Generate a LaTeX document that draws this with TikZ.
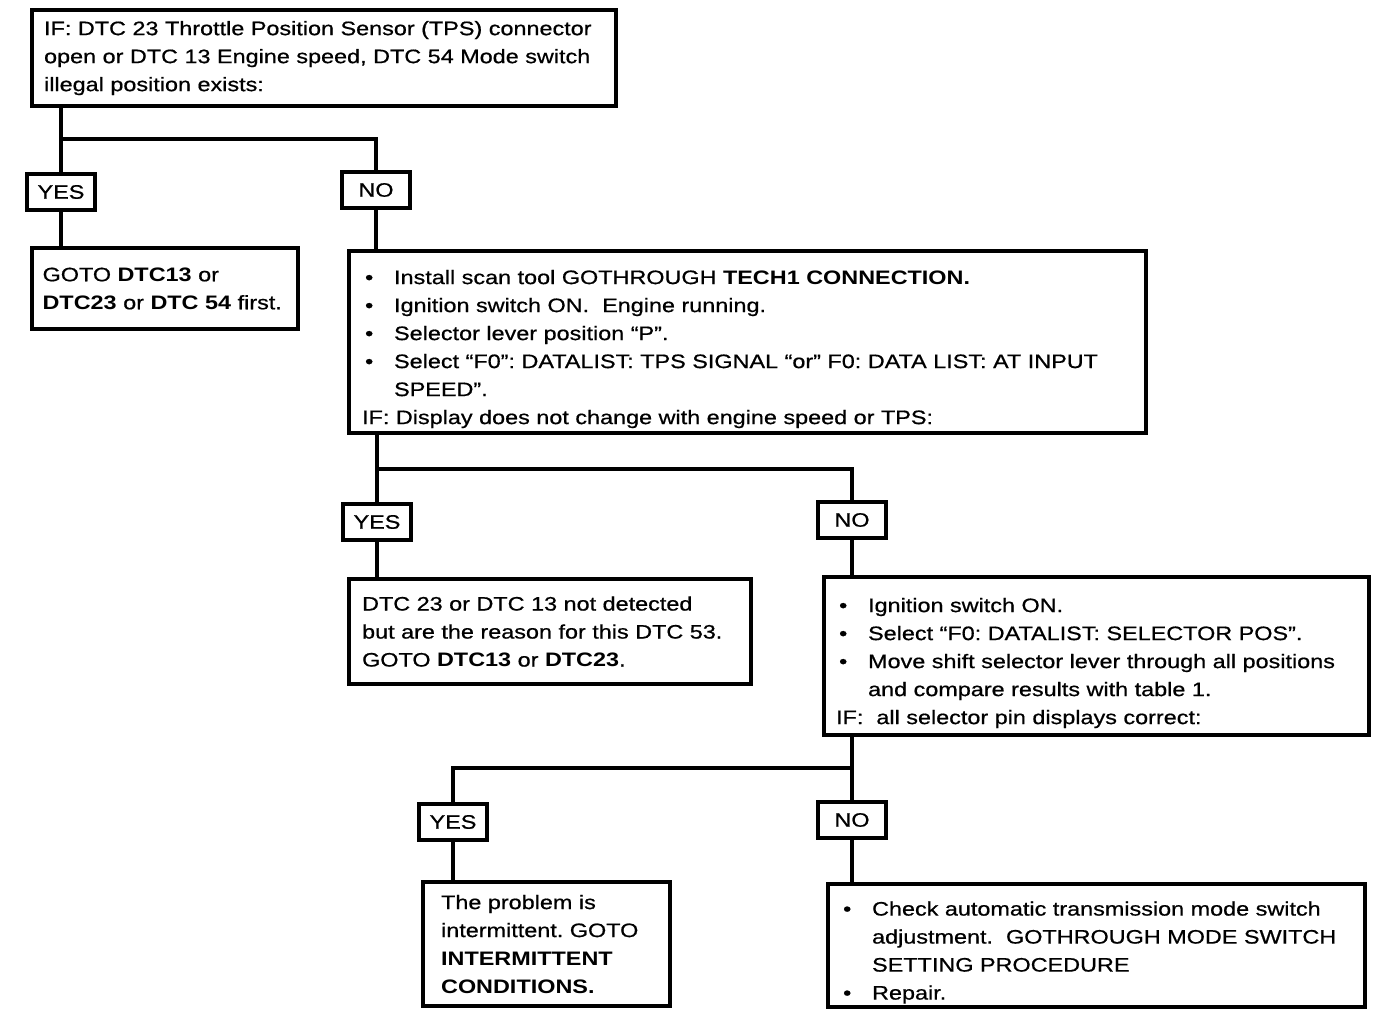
\documentclass[tikz,border=0pt]{standalone}
\usepackage{fontspec}
\setmainfont{Liberation Sans}[FakeStretch=1.2,UprightFeatures={FakeBold=0.7}]
\newcommand{\itm}{\par\hangindent=32pt\hangafter=1\noindent\makebox[32pt][l]{\hspace{3pt}\textbullet}}
\frenchspacing

\begin{document}
\begin{tikzpicture}
[x=1pt,y=-1pt,
  textBox/.style={draw,line width=4.2pt,anchor=north west,align=left,inner xsep=13pt,inner ysep=0pt,font=\fontsize{19.5}{28}\selectfont},%
  answerBox/.style={draw,line width=4.2pt,minimum width=68pt,minimum height=36pt,inner sep=0pt,font=\fontsize{19.5}{28}\selectfont},%
  darkLine/.style={line width=4.2pt}]
\useasboundingbox (0,0) rectangle (1392,1016);
%% the text boxes
\node[textBox,text width=560pt,minimum height=96pt,inner xsep=12pt] (q1) at (30,8)
  {IF: DTC 23 Throttle Position Sensor (TPS) connector\\ open or DTC 13 Engine speed, DTC 54 Mode switch\\ illegal position exists:};
\node[textBox,text width=244pt,minimum height=81pt,inner xsep=11pt] (a1) at (29.5,246)
  {GOTO \textbf{DTC13} or\\ \textbf{DTC23} or \textbf{DTC 54} first.};
\node[textBox,text width=771pt,minimum height=182pt] (q2) at (347,249)
  {\itm Install scan tool GOTHROUGH \textbf{TECH1 CONNECTION.}
   \itm Ignition switch ON.\ \ Engine running.
   \itm Selector lever position “P”.
   \itm Select “F0”: DATALIST: TPS SIGNAL “or” F0: DATA LIST: AT INPUT\newline SPEED”.
   \par IF: Display does not change with engine speed or TPS:};
\node[textBox,text width=376pt,minimum height=105pt] (a2) at (347,577)
  {DTC 23 or DTC 13 not detected\\ but are the reason for this DTC 53.\\ GOTO \textbf{DTC13} or \textbf{DTC23}.};
\node[textBox,text width=521pt,minimum height=158pt,inner xsep=12pt] (q3) at (822,575)
  {\itm Ignition switch ON.
   \itm Select “F0: DATALIST: SELECTOR POS”.
   \itm Move shift selector lever through all positions\newline and compare results with table 1.
   \par IF:\ \ all selector pin displays correct:};
\node[textBox,text width=211pt,minimum height=124pt,inner xsep=18pt] (a3) at (421,880)
  {The problem is\\ intermittent. GOTO\\ \textbf{INTERMITTENT}\\ \textbf{CONDITIONS.}};
\node[textBox,text width=513pt,minimum height=123pt,inner xsep=12pt] (a4) at (826,882)
  {\itm Check automatic transmission mode switch\newline adjustment.\ \ GOTHROUGH MODE SWITCH\newline SETTING PROCEDURE
   \itm Repair.};
%% the answer boxes
\foreach \nodename/\txt/\x/\y in {yes1/YES/61/192, no1/NO/376/190, yes2/YES/377/522,
  no2/NO/852/520, yes3/YES/453/822, no3/NO/852/820}
{
  \node[answerBox] (\nodename) at (\x,\y) {\txt};
}
%% the split points
\coordinate (s1) at (61,139);
\coordinate (s2) at (377,469);
\coordinate (s3) at (852,768);
%% draw the edges
\draw[darkLine] (q1.south -| s1) -- (yes1.north);
\draw[darkLine] (s1) -| (no1.north);
\draw[darkLine] (q2.south -| s2) -- (yes2.north);
\draw[darkLine] (s2) -| (no2.north);
\draw[darkLine] (q3.south -| s3) -- (no3.north);
\draw[darkLine] (s3) -| (yes3.north);
\foreach \u/\v in {yes1/a1, no1/q2, yes2/a2, no2/q3, yes3/a3, no3/a4}
{
  \draw[darkLine] (\u.south) -- (\v.north -| \u.south);
}
\end{tikzpicture}
\end{document}
